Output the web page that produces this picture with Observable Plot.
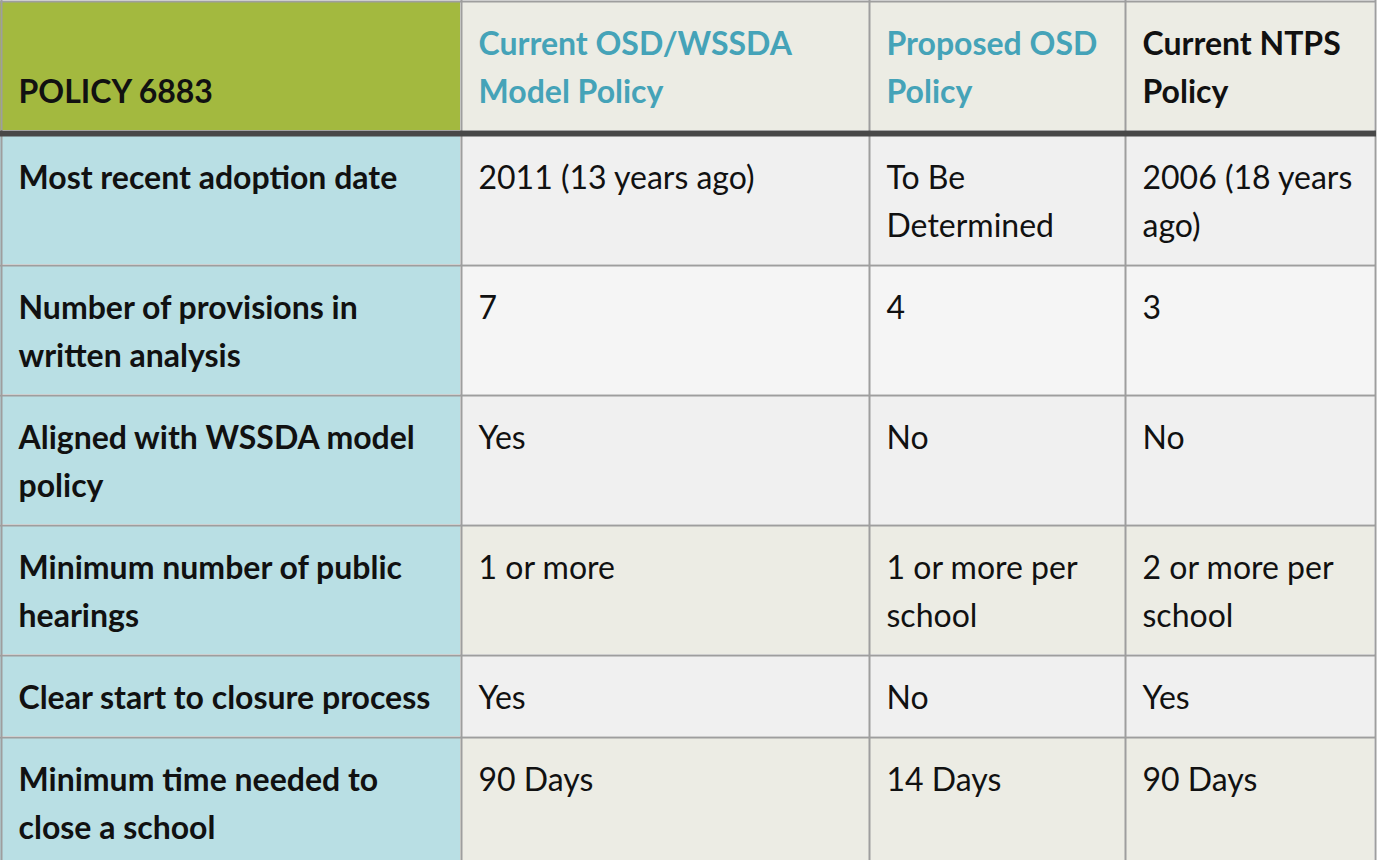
<!DOCTYPE html>
<html>
<head>
<meta charset="utf-8">
<script src="https://cdn.jsdelivr.net/npm/d3@7"></script>
<script src="https://cdn.jsdelivr.net/npm/@observablehq/plot@0.6"></script>
<style>
  html, body { margin: 0; padding: 0; background: #ffffff; }
  #chart svg { display: block; }
</style>
</head>
<body>
<div id="chart"></div>
<script>
// ---------- DATA ----------
const headers = ["POLICY 6883", "Current OSD/WSSDA Model Policy", "Proposed OSD Policy", "Current NTPS Policy"];
const criteria = [
  "Most recent adoption date",
  "Number of provisions in written analysis",
  "Aligned with WSSDA model policy",
  "Minimum number of public hearings",
  "Clear start to closure process",
  "Minimum time needed to close a school"
];
const osdWssdaModel = ["2011 (13 years ago)", "7", "Yes", "1 or more", "Yes", "90 Days"];
const proposedOsd = ["To Be Determined", "4", "No", "1 or more per school", "No", "14 Days"];
const currentNtps = ["2006 (18 years ago)", "3", "No", "2 or more per school", "Yes", "90 Days"];

// ---------- LAYOUT & STYLE ----------
const W = 1378, H = 860;
const colWidths = [460, 408, 256, 250];
const border = 2, headerRule = 6, pad = 16, lineH = 48, fontSize = 32, baseOff = 36;
const font = "Lato";
const headerFills = ["#a3b93f", "#ecece4", "#ecece4", "#ecece4"];
const headerColors = ["#111111", "#45a3b8", "#45a3b8", "#111111"];
const firstColFill = "#b9dfe4";
const rowFills = ["#f0f0f0", "#f5f5f5", "#f0f0f0", "#ecece4", "#f0f0f0", "#ecece4"];
const gridColor = "#9e9e9e", ruleColor = "#484848", textColor = "#111111";

const columns = [criteria, osdWssdaModel, proposedOsd, currentNtps];

const edges = [0];
colWidths.forEach(w => edges.push(edges[edges.length - 1] + w));

const ctx = document.createElement("canvas").getContext("2d");
function wrap(str, bold, maxW) {
  ctx.font = `${bold ? "bold " : ""}${fontSize}px ${font}`;
  const words = str.split(" ");
  const lines = [];
  let cur = "";
  for (const w of words) {
    const t = cur ? cur + " " + w : w;
    if (cur && ctx.measureText(t).width > maxW) { lines.push(cur); cur = w; }
    else cur = t;
  }
  if (cur) lines.push(cur);
  return lines;
}
const innerW = c => colWidths[c] - border - 2 * pad;

// header
const headerLines = headers.map((h, c) => wrap(h, true, innerW(c)));
const headerN = d3.max(headerLines, l => l.length);
const headerTop = border;
const headerBottom = headerTop + headerN * lineH + 2 * pad;

const cells = [], texts = [], hLines = [];
headers.forEach((h, c) => {
  cells.push({x1: edges[c], x2: edges[c + 1], y1: headerTop, y2: headerBottom, fill: headerFills[c]});
  const lines = headerLines[c], n = lines.length;
  lines.forEach((t, i) => texts.push({
    x: edges[c] + border + pad,
    y: headerBottom - pad - lineH + baseOff - (n - 1 - i) * lineH,
    text: t, bold: true, color: headerColors[c]
  }));
});

let rowTop = headerBottom + headerRule;
criteria.forEach((crit, r) => {
  const lines = columns.map((col, c) => wrap(col[r], c === 0, innerW(c)));
  const n = d3.max(lines, l => l.length);
  const bottom = rowTop + n * lineH + 2 * pad;
  columns.forEach((col, c) => {
    cells.push({x1: edges[c], x2: edges[c + 1], y1: rowTop, y2: bottom, fill: c === 0 ? firstColFill : rowFills[r]});
    lines[c].forEach((t, i) => texts.push({
      x: edges[c] + border + pad, y: rowTop + pad + baseOff + i * lineH,
      text: t, bold: c === 0, color: textColor
    }));
  });
  hLines.push(bottom + border / 2);
  rowTop = bottom + border;
});

const tableRight = edges[edges.length - 1] + border;

const chart = Plot.plot({
  width: W, height: H,
  margin: 0,
  x: {domain: [0, W], range: [0, W], axis: null},
  y: {domain: [0, H], range: [0, H], axis: null},
  color: {type: "identity"},
  style: {background: "#ffffff"},
  marks: [
    Plot.rect(cells, {x1: "x1", x2: "x2", y1: "y1", y2: "y2", fill: "fill"}),
    Plot.ruleX(edges, {x: d => d + border / 2, y1: 0, y2: H, stroke: gridColor, strokeWidth: border}),
    Plot.ruleY([border / 2, ...hLines], {y: d => d, x1: 0, x2: tableRight, stroke: gridColor, strokeWidth: border}),
    Plot.ruleY([headerBottom + headerRule / 2], {y: d => d, x1: 0, x2: tableRight, stroke: ruleColor, strokeWidth: headerRule}),
    Plot.text(texts.filter(d => d.bold), {x: "x", y: "y", text: "text", fill: "color", fontSize, fontFamily: font, fontWeight: "bold", textAnchor: "start", lineAnchor: "bottom"}),
    Plot.text(texts.filter(d => !d.bold), {x: "x", y: "y", text: "text", fill: "color", fontSize, fontFamily: font, fontWeight: "normal", textAnchor: "start", lineAnchor: "bottom"})
  ]
});
document.getElementById("chart").appendChild(chart);
</script>
</body>
</html>
